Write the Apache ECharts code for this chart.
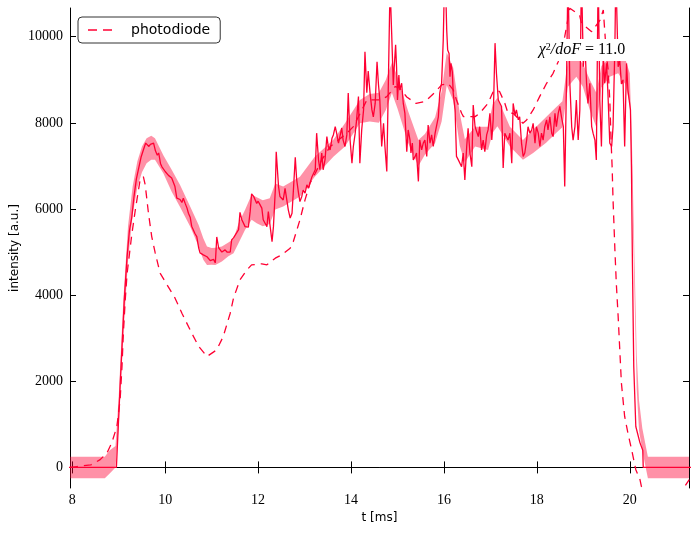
<!DOCTYPE html>
<html>
<head>
<meta charset="utf-8">
<script src="https://cdn.jsdelivr.net/npm/echarts@6/dist/echarts.min.js"></script>
<style>html,body{margin:0;padding:0;background:#fff}#c{width:699px;height:533px}</style>
</head>
<body>
<div id="c"></div>
<script>
// ---- data ----
const xTicks = [8, 10, 12, 14, 16, 18, 20];
const yTicks = [0, 2000, 4000, 6000, 8000, 10000];

const measT = [7.90,8.95,9.03,9.12,9.18,9.23,9.28,9.33,9.38,9.43,9.48,9.53,9.58,9.61,9.65,9.68,9.72,9.75,9.79,9.83,9.86,9.90,9.93,9.96,10.00,10.04,10.07,10.11,10.14,10.18,10.21,10.25,10.28,10.32,10.36,10.39,10.43,10.47,10.50,10.54,10.57,10.61,10.64,10.68,10.72,10.75,10.79,10.82,10.86,10.90,10.93,10.97,11.00,11.04,11.08,11.11,11.15,11.18,11.22,11.25,11.29,11.33,11.36,11.40,11.43,11.47,11.51,11.54,11.58,11.61,11.65,11.68,11.72,11.76,11.79,11.83,11.86,11.90,11.94,11.97,12.00,12.04,12.08,12.11,12.15,12.19,12.22,12.26,12.30,12.33,12.37,12.39,12.44,12.47,12.51,12.54,12.58,12.62,12.65,12.69,12.73,12.76,12.80,12.83,12.87,12.90,12.94,12.97,13.01,13.05,13.08,13.12,13.16,13.19,13.23,13.26,13.30,13.33,13.37,13.40,13.44,13.48,13.51,13.55,13.59,13.62,13.66,13.69,13.73,13.76,13.80,13.83,13.87,13.91,13.94,13.98,14.02,14.05,14.09,14.12,14.16,14.19,14.23,14.27,14.30,14.34,14.37,14.41,14.45,14.48,14.52,14.56,14.59,14.62,14.66,14.70,14.73,14.77,14.80,14.84,14.875,14.91,14.93,14.96,14.98,15.00,15.03,15.05,15.09,15.125,15.16,15.20,15.23,15.27,15.29,15.32,15.34,15.38,15.41,15.45,15.48,15.52,15.555,15.59,15.63,15.66,15.70,15.735,15.77,15.81,15.84,15.88,15.91,15.95,15.985,16.01,16.04,16.06,16.08,16.11,16.13,16.15,16.18,16.20,16.24,16.27,16.31,16.34,16.38,16.415,16.45,16.49,16.52,16.56,16.60,16.63,16.67,16.70,16.74,16.77,16.81,16.845,16.88,16.92,16.95,16.99,17.03,17.06,17.10,17.13,17.17,17.20,17.24,17.275,17.31,17.35,17.38,17.42,17.46,17.49,17.53,17.56,17.60,17.63,17.67,17.705,17.74,17.78,17.81,17.85,17.89,17.92,17.96,17.99,18.03,18.065,18.10,18.135,18.17,18.21,18.24,18.28,18.32,18.35,18.39,18.42,18.46,18.495,18.53,18.57,18.60,18.64,18.67,18.71,18.75,18.78,18.82,18.85,18.89,18.925,18.96,19.00,19.03,19.07,19.10,19.14,19.18,19.21,19.25,19.28,19.32,19.355,19.39,19.43,19.46,19.50,19.53,19.57,19.61,19.64,19.68,19.70,19.75,19.785,19.82,19.855,19.89,19.93,19.96,20.015,20.036,20.058,20.086,20.13,20.22,20.28,20.29,21.35];
const measV = [0,0,1900,3900,4900,5500,5800,6300,6700,6950,7200,7370,7530,7530,7450,7500,7470,7530,7350,7250,7300,7050,6980,7000,6870,6900,6780,6790,6720,6700,6520,6250,6220,6220,6150,6250,6130,6020,5900,5800,5600,5580,5430,5360,5100,4980,4970,4935,4970,4890,4890,4800,4760,4830,4750,5350,5100,5130,5000,4970,5050,5000,5020,5000,5280,5330,5400,5450,5520,5920,5750,5720,5590,5590,5580,5950,6350,6300,6330,6130,6180,6100,6020,5750,5670,5590,5940,5980,5240,5590,6440,7330,6520,6290,6290,6210,6480,6440,5980,5790,5900,6440,7200,6680,6370,6170,6290,6440,6370,6560,6480,6520,6750,6790,6910,7760,7140,6910,7300,6910,7140,7680,7450,7370,7640,7720,7910,7760,7530,7680,7880,7600,7450,7720,8690,7600,7060,7450,7760,8070,8610,7060,7840,8300,9650,8700,9200,8690,8300,8140,8450,9420,8900,8530,7450,7990,7450,6870,8690,11200,10080,8880,9300,9810,9300,8530,9110,8760,8920,8450,8220,7330,7835,7600,7300,7530,7140,7220,7300,6640,7600,7370,7530,7600,7220,7950,7530,7720,7450,7760,7760,8140,8690,8920,9920,11200,11000,10150,9690,9610,9070,9380,9190,8690,8300,7220,7140,7140,6980,7300,6675,7450,7875,7300,6980,8415,7910,7910,7680,7910,7370,7600,7330,7720,7835,8220,7600,8070,9850,9150,8530,8530,8380,6950,7760,7760,7600,7760,7060,8450,8180,8300,8070,8140,7530,7220,7300,7600,7910,7760,7835,7990,7530,7910,7760,7450,7760,7600,7910,8070,7835,8140,7760,7680,8220,7910,8220,8380,8140,7910,6520,9070,11500,8920,7910,7600,7910,8530,7600,8300,11500,9300,9920,8920,8450,8920,7910,7760,7600,7140,11500,8530,7450,9600,8920,9380,8690,7530,7450,7910,9800,11500,9300,9450,8900,9000,7450,9380,8760,8300,6980,4660,2340,950,570,400,0,0];

const pdT = [7.95,8.10,8.40,8.60,8.75,8.85,8.96,9.03,9.07,9.10,9.14,9.18,9.28,9.36,9.46,9.53,9.57,9.64,9.71,9.785,9.89,10.04,10.21,10.36,10.57,10.72,10.90,11.11,11.25,11.40,11.47,11.61,11.76,11.86,12.08,12.19,12.37,12.51,12.69,12.76,12.90,13.01,13.12,13.23,13.37,13.55,13.73,13.91,14.05,14.27,14.34,14.48,14.62,14.77,14.95,15.05,15.20,15.40,15.60,15.80,15.95,16.09,16.20,16.27,16.38,16.42,16.67,16.77,16.95,17.06,17.13,17.20,17.31,17.38,17.49,17.70,17.78,17.92,18.06,18.21,18.35,18.46,18.60,18.71,18.92,18.96,19.18,19.21,19.36,19.43,19.50,19.535,19.57,19.60,19.62,19.64,19.68,19.71,19.75,19.785,19.82,19.89,19.96,20.04,20.13,20.22,20.25,20.50,20.80,21.05,21.17,21.28];
const pdV = [0,20,60,180,340,570,950,1570,2340,3120,3890,4500,5400,6000,6675,6750,6560,5900,5360,4980,4510,4240,3935,3580,3120,2810,2576,2730,3040,3580,3930,4355,4587,4703,4726,4703,4858,4935,5090,5250,5747,6211,6605,6830,7139,7448,7603,7760,7912,8376,8531,8531,8531,8608,8840,8810,8600,8450,8500,8700,8880,8918,8763,8531,8222,8144,8144,8222,8454,8724,8763,8724,8454,8222,8222,7990,8067,8299,8608,8918,9150,9420,10000,10660,10500,10310,10116,10078,10387,10620,9540,9230,8530,7527,6984,6211,5051,4278,3503,2731,1958,1183,798,411,-53,-285,-440,-800,-900,-700,-460,-285];

const bandT = [7.90,8.70,8.80,8.93,9.00,9.10,9.20,9.30,9.40,9.50,9.60,9.70,9.78,9.96,10.14,10.32,10.54,10.72,10.82,10.90,11.00,11.08,11.22,11.36,11.47,11.58,11.72,11.86,11.97,12.10,12.25,12.37,12.54,12.90,13.22,13.62,13.87,14.19,14.40,14.60,14.75,14.88,15.00,15.23,15.45,15.59,15.81,15.95,16.06,16.20,16.34,16.45,16.67,16.95,17.05,17.15,17.42,17.70,17.92,18.20,18.42,18.55,18.67,18.85,18.99,19.14,19.28,19.39,19.57,19.75,19.90,20.00,20.05,20.10,20.15,20.20,20.27,20.39,21.35];
const bandLow = [-250,-250,-150,0,950,3100,4800,5870,6500,6850,7060,7140,7140,6830,6400,6045,5590,5130,4820,4700,4705,4700,4780,4900,4975,5210,5520,5750,5670,5600,5650,5990,6060,6290,6750,7215,7450,7990,8030,8000,8300,8700,8330,7530,7000,7260,7530,8030,8870,8520,7470,7080,7450,7370,7770,7920,7450,7140,7300,7535,7770,7900,8840,9070,8840,8300,7900,8820,9070,9150,8900,8450,6600,4100,1800,850,390,-250,-250];
const bandHigh = [250,250,390,500,1650,3900,5600,6530,7100,7450,7640,7700,7640,7250,6910,6555,6050,5630,5320,5130,5095,5100,5130,5220,5305,5670,5980,6330,6270,6200,6250,6590,6520,6750,7210,7605,7990,8530,8670,8700,9000,9400,9070,8270,7600,7740,8130,8730,9630,9280,8230,7620,7910,7910,8430,8580,7910,7600,7840,8135,8370,8500,9460,9530,9380,9000,8700,9320,9530,9610,9500,9150,7400,4900,2600,1550,910,250,250];

const RED = '#ff0033';
const BAND = 'rgba(255,0,51,0.43)';
const SERIF = "'Liberation Serif', 'Times New Roman', serif";
const SANS = "'DejaVu Sans', sans-serif";

const pair = (a, b) => a.map((t, i) => [t, b[i]]);

const chart = echarts.init(document.getElementById('c'), null, {renderer: 'canvas'});
const axisBase = {
  type: 'value',
  axisLine: {show: true, lineStyle: {color: '#000', width: 1}},
  splitLine: {show: false},
};
const plain = v => String(v);

chart.setOption({
  animation: false,
  backgroundColor: '#fff',
  grid: {left: 70, right: 10, top: 8, bottom: 45, containLabel: false, outerBoundsMode: 'none'},
  legend: {
    data: [{name: 'photodiode', icon: 'path://M0,0h9v1.4h-9z M15,0h9v1.4h-9z'}],
    left: 78, top: 17,
    padding: [6, 10, 6, 10],
    backgroundColor: '#fff',
    borderColor: '#333', borderWidth: 1, borderRadius: 4,
    itemWidth: 24, itemHeight: 1.4,
    itemStyle: {color: RED},
    textStyle: {fontFamily: SANS, fontSize: 14, color: '#000', padding: [0, 0, 0, 14]}
  },
  xAxis: [
    Object.assign({}, axisBase, {
      min: 7.951, max: 21.275, position: 'bottom',
      name: 't [ms]', nameLocation: 'middle', nameGap: 24, nameMoveOverlap: false,
      nameTextStyle: {fontFamily: SANS, fontSize: 12, color: '#000'},
      axisTick: {show: true, inside: true, length: 6, customValues: xTicks, lineStyle: {color: '#000'}},
      axisLabel: {show: true, customValues: xTicks, formatter: plain, margin: 5, fontFamily: SERIF, fontSize: 14, color: '#000'}
    }),
    Object.assign({}, axisBase, {
      min: 7.951, max: 21.275, position: 'top',
      axisTick: {show: true, inside: true, length: 6, customValues: xTicks, lineStyle: {color: '#000'}},
      axisLabel: {show: false}
    })
  ],
  yAxis: [
    Object.assign({}, axisBase, {
      min: -478, max: 10666, position: 'left',
      name: 'intensity [a.u.]', nameLocation: 'middle', nameGap: 49, nameMoveOverlap: false,
      nameTextStyle: {fontFamily: SANS, fontSize: 12, color: '#000'},
      axisTick: {show: true, inside: true, length: 6, customValues: yTicks, lineStyle: {color: '#000'}},
      axisLabel: {show: true, customValues: yTicks, formatter: plain, margin: 7, fontFamily: SERIF, fontSize: 14, color: '#000'}
    }),
    Object.assign({}, axisBase, {
      min: -478, max: 10666, position: 'right',
      axisTick: {show: true, inside: true, length: 6, customValues: yTicks, lineStyle: {color: '#000'}},
      axisLabel: {show: false}
    })
  ],
  series: [
    {
      name: 'band', type: 'custom', xAxisIndex: 0, yAxisIndex: 0,
      data: [[bandT[0], bandLow[0]]], silent: true, z: 1, clip: true,
      renderItem: function (params, api) {
        const pts = [];
        for (let i = 0; i < bandT.length; i++) pts.push(api.coord([bandT[i], bandHigh[i]]));
        for (let i = bandT.length - 1; i >= 0; i--) pts.push(api.coord([bandT[i], bandLow[i]]));
        return {type: 'polygon', shape: {points: pts}, style: {fill: BAND, stroke: null}};
      }
    },
    {
      name: 'photodiode', type: 'line', xAxisIndex: 0, yAxisIndex: 0,
      data: pair(pdT, pdV), symbol: 'none',
      lineStyle: {color: RED, width: 1.3, type: [8, 6]}, itemStyle: {color: RED}, z: 3
    },
    {
      name: 'measured', type: 'line', xAxisIndex: 0, yAxisIndex: 0,
      data: pair(measT, measV), symbol: 'none',
      lineStyle: {color: RED, width: 1.3}, itemStyle: {color: RED}, z: 4
    }
  ],
  graphic: [{
    type: 'text', x: 582, y: 50, z: 100,
    style: {
      text: '{i|χ}{s|2}{i|/doF} = 11.0',
      align: 'center', verticalAlign: 'middle',
      fontFamily: SERIF, fontSize: 16, fill: '#000',
      backgroundColor: '#fff', padding: [3, 3, 3, 3],
      rich: {
        i: {fontFamily: SERIF, fontStyle: 'italic', fontSize: 16, fill: '#000'},
        s: {fontFamily: SERIF, fontSize: 10, verticalAlign: 'top', fill: '#000'}
      }
    }
  }]
});
</script>
</body>
</html>
